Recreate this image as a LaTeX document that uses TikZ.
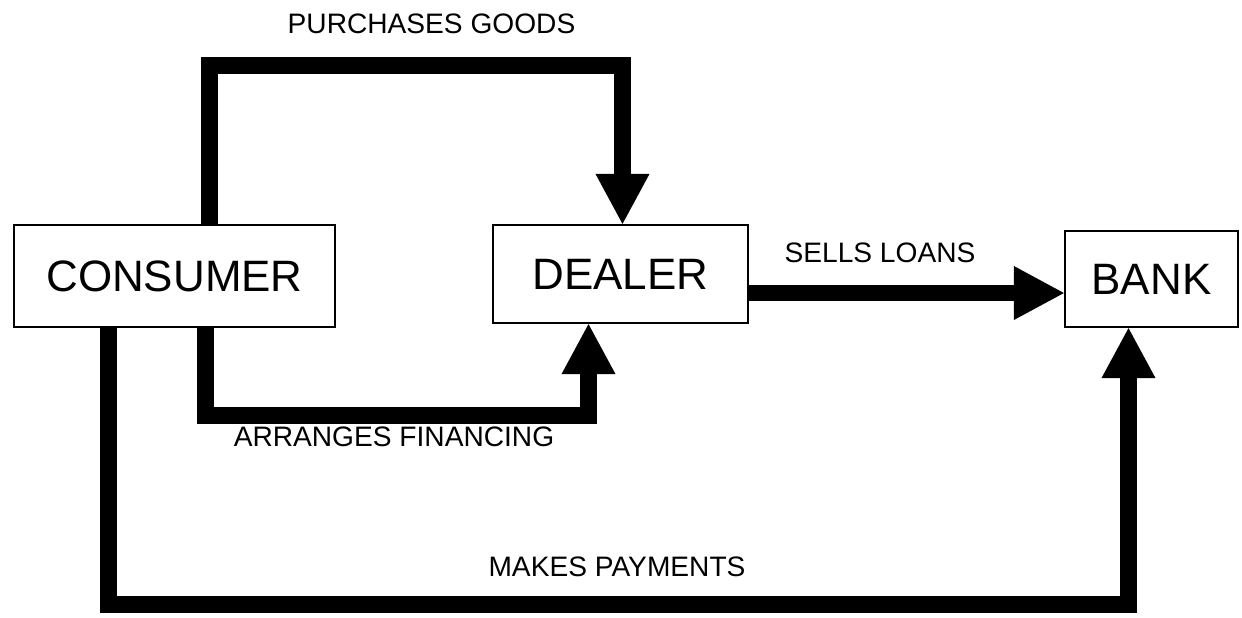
\documentclass[tikz,border=0pt]{standalone}
\usepackage{fontspec}
\setmainfont{Liberation Sans}
\usetikzlibrary{arrows.meta}
\tikzset{
  box/.style={draw,line width=0.6pt,inner sep=0pt,font=\fontsize{12.5}{15}\selectfont},
  flow/.style={line width=4.8pt,-{Triangle[length=5mm,width=5.4mm,line width=0pt]}},
  lbl/.style={font=\fontsize{8}{10}\selectfont}
}
\begin{document}
\begin{tikzpicture}[x=0.01cm,y=-0.01cm]
\useasboundingbox (0,0) rectangle (1242,617);
\node[box,minimum width=3.21cm,minimum height=1.02cm] (consumer) at (174.5,276) {CONSUMER};
\node[box,minimum width=2.55cm,minimum height=0.98cm] (dealer) at (620.5,274) {DEALER};
\node[box,minimum width=1.73cm,minimum height=0.96cm] (bank) at (1151.5,279) {BANK};
% flows between the three parties
\draw[flow] ([shift={(35,0)}]consumer.north) |- ([shift={(2,-158)}]dealer.north) -- ([shift={(2,0)}]dealer.north);
\draw[flow] ([shift={(31,0)}]consumer.south) |- ([shift={(-32,91)}]dealer.south) -- ([shift={(-32,0)}]dealer.south);
\draw[flow] ([shift={(0,19)}]dealer.east) -- ([shift={(0,19)}]dealer.east -| bank.west);
\draw[flow] ([shift={(-66,0)}]consumer.south) |- ([shift={(-23,276)}]bank.south) -- ([shift={(-23,0)}]bank.south);
\node[lbl] (purchases) at (431.5,24) {PURCHASES GOODS};
\node[lbl] (sells) at (880,253) {SELLS LOANS};
\node[lbl] (arranges) at (394,437) {ARRANGES FINANCING};
\node[lbl] (payments) at (617,567) {MAKES PAYMENTS};
\end{tikzpicture}
\end{document}
